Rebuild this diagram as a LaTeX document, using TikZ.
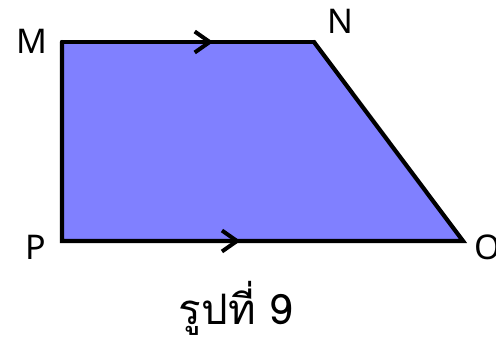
\documentclass[tikz,border=0pt]{standalone}
\usepackage{fontspec}
\setmainfont{Noto Sans}
\newfontfamily\thaifont[Script=Thai]{Loma}
\usetikzlibrary{arrows.meta, decorations.markings}
\definecolor{trapblue}{RGB}{128, 128, 255}

\begin{document}
\begin{tikzpicture}[x=1pt, y=-1pt,
  vlabel/.style={font=\fontsize{34}{38}\selectfont, inner sep=0pt},
  side/.style={line width=4.2pt, line cap=round},
  midarrow/.style={decoration={markings, mark=at position #1 with {\arrow{Straight Barb[length=15pt, width=21pt, line width=4pt]}}}, postaction=decorate}]
  \useasboundingbox (0,0) rectangle (496,343);

  % Corners
  \coordinate (M) at (62, 42);
  \coordinate (N) at (314, 42);
  \coordinate (O) at (463, 241);
  \coordinate (P) at (62, 241);

  % Trapezoid
  \fill[trapblue] (M) -- (N) -- (O) -- (P) -- cycle;
  \draw[side, midarrow=0.6] (M) -- (N);
  \draw[side] (N) -- (O) -- (P) -- (M);
  \draw[side, line cap=butt, midarrow=0.445] (P) -- (O);

  % Vertex labels
  \node[vlabel] (labM) at (32, 41) {M};
  \node[vlabel] (labN) at (340, 21) {N};
  \node[vlabel, anchor=west] (labO) at (474, 247) {O};
  \node[vlabel] (labP) at (36, 247) {P};

  % Caption
  \node[font=\thaifont\fontsize{42}{46}\selectfont, inner sep=0pt] (caption) at (236, 308) {รูปที่ 9};
\end{tikzpicture}
\end{document}
